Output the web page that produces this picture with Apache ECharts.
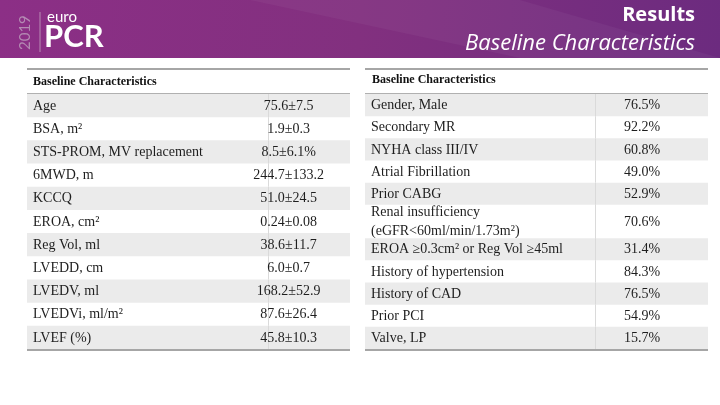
<!DOCTYPE html>
<html>
<head>
<meta charset="utf-8">
<script src="https://cdn.jsdelivr.net/npm/echarts@6/dist/echarts.min.js"></script>
<style>html,body{margin:0;padding:0;background:#fff}#c{width:720px;height:405px}</style>
</head>
<body>
<div id="c"></div>
<script>
var tableTitle = 'Baseline Characteristics';
var leftLabels = ['Age', 'BSA, m²', 'STS-PROM, MV replacement', '6MWD, m', 'KCCQ', 'EROA, cm²', 'Reg Vol, ml', 'LVEDD, cm', 'LVEDV, ml', 'LVEDVi, ml/m²', 'LVEF (%)'];
var leftValues = ['75.6±7.5', '1.9±0.3', '8.5±6.1%', '244.7±133.2', '51.0±24.5', '0.24±0.08', '38.6±11.7', '6.0±0.7', '168.2±52.9', '87.6±26.4', '45.8±10.3'];
var rightLabels = ['Gender, Male', 'Secondary MR', 'NYHA class III/IV', 'Atrial Fibrillation', 'Prior CABG', 'Renal insufficiency\n(eGFR<60ml/min/1.73m²)', 'EROA ≥0.3cm² or Reg Vol ≥45ml', 'History of hypertension', 'History of CAD', 'Prior PCI', 'Valve, LP'];
var rightValues = [76.5, 92.2, 60.8, 49.0, 52.9, 70.6, 31.4, 84.3, 76.5, 54.9, 15.7];

function rows(labels) {
  var out = [], acc = 0;
  labels.forEach(function (l, i) {
    var w = l.split('\n').length > 1 ? 1.5 : 1;
    out.push([i, acc, acc + w]);
    acc += w;
  });
  return { data: out, total: acc };
}
var L = rows(leftLabels), R = rows(rightLabels);
var rightText = rightValues.map(function (v) { return v.toFixed(1) + '%'; });

var serif = 'Liberation Serif';
function makeRender(labels, values, divFrac, valFrac) {
  return function (params, api) {
    var i = api.value(0);
    var p0 = api.coord([0, api.value(1)]);
    var p1 = api.coord([1, api.value(2)]);
    var x0 = p0[0], y0 = p0[1], x1 = p1[0], y1 = p1[1];
    var w = x1 - x0, h = y1 - y0;
    var xd = Math.round(x0 + w * divFrac) + 0.5;
    var ch = [];
    if (i % 2 === 0) ch.push({ type: 'rect', shape: { x: x0, y: y0, width: w, height: h }, style: { fill: '#ebebeb' } });
    ch.push({ type: 'line', shape: { x1: xd, y1: y0, x2: xd, y2: y1 }, style: { stroke: '#dadada', lineWidth: 1 } });
    ch.push({ type: 'text', style: { text: labels[i], x: x0 + 6, y: y0 + h / 2 + 0.5, verticalAlign: 'middle', align: 'left', fill: '#1e1e1e', font: '14px "' + serif + '"', lineHeight: 19 } });
    ch.push({ type: 'text', style: { text: values[i], x: x0 + w * valFrac, y: y0 + h / 2 + 0.5, verticalAlign: 'middle', align: 'center', fill: '#1e1e1e', font: '14px "' + serif + '"' } });
    return { type: 'group', children: ch };
  };
}

var chart = echarts.init(document.getElementById('c'), null, { renderer: 'canvas' });
var hiddenX = function (gi) { return { type: 'value', gridIndex: gi, min: 0, max: 1, show: false }; };
chart.setOption({
  animation: false,
  grid: [
    { left: 27, right: 370, top: 94, bottom: 56 },
    { left: 365, right: 12, top: 94, bottom: 56 }
  ],
  xAxis: [hiddenX(0), hiddenX(1)],
  yAxis: [
    { type: 'value', gridIndex: 0, min: 0, max: L.total, inverse: true, show: false },
    { type: 'value', gridIndex: 1, min: 0, max: R.total, inverse: true, show: false }
  ],
  series: [
    { type: 'custom', xAxisIndex: 0, yAxisIndex: 0, data: L.data, encode: { y: [1, 2] }, renderItem: makeRender(leftLabels, leftValues, 0.746, 0.81) },
    { type: 'custom', xAxisIndex: 1, yAxisIndex: 1, data: R.data, encode: { y: [1, 2] }, renderItem: makeRender(rightLabels, rightText, 0.67, 0.808) }
  ],
  graphic: [
    { type: 'rect', shape: { x: 0, y: 0, width: 720, height: 58 }, style: { fill: new echarts.graphic.LinearGradient(0, 0, 1, 1, [{ offset: 0, color: '#8c2f86' }, { offset: 0.5, color: '#82307f' }, { offset: 1, color: '#6c2b7f' }]) }, z: 1 },
    { type: 'polygon', shape: { points: [[250, 0], [520, 0], [720, 58], [520, 58]] }, style: { fill: 'rgba(255,255,255,0.04)' }, z: 2 },
    { type: 'text', x: 33, y: 50, rotation: Math.PI / 2, style: { text: '2019', fill: '#b48ab3', font: '15px "Lato"', verticalAlign: 'bottom', align: 'left' }, z: 3 },
    { type: 'line', shape: { x1: 40, y1: 12, x2: 40, y2: 52 }, style: { stroke: '#b88db4', lineWidth: 1 }, z: 3 },
    { type: 'text', x: 47, y: 17, style: { text: 'euro', fill: '#fff', font: '15px "Lato"', verticalAlign: 'middle' }, z: 3 },
    { type: 'text', x: 44, y: 37, style: { text: 'PCR', fill: '#fff', font: 'bold 31px "Lato"', verticalAlign: 'middle' }, z: 3 },
    { type: 'text', x: 695, y: 15, style: { text: 'Results', fill: '#fff', font: 'bold 20px "Open Sans"', align: 'right', verticalAlign: 'middle' }, z: 3 },
    { type: 'text', x: 695, y: 44, style: { text: tableTitle, fill: '#fff', font: 'italic 22px "Open Sans"', align: 'right', verticalAlign: 'middle' }, z: 3 },
    { type: 'line', shape: { x1: 27, y1: 69, x2: 350, y2: 69 }, style: { stroke: '#a6a6a6', lineWidth: 2 }, z: 3 },
    { type: 'line', shape: { x1: 365, y1: 69, x2: 708, y2: 69 }, style: { stroke: '#a6a6a6', lineWidth: 2 }, z: 3 },
    { type: 'text', x: 33, y: 82, style: { text: tableTitle, fill: '#111', font: 'bold 12px "' + serif + '"', verticalAlign: 'middle' }, z: 3 },
    { type: 'text', x: 372, y: 80, style: { text: tableTitle, fill: '#111', font: 'bold 12px "' + serif + '"', verticalAlign: 'middle' }, z: 3 },
    { type: 'line', shape: { x1: 27, y1: 93.5, x2: 350, y2: 93.5 }, style: { stroke: '#b0b0b0', lineWidth: 1 }, z: 3 },
    { type: 'line', shape: { x1: 365, y1: 93.5, x2: 708, y2: 93.5 }, style: { stroke: '#b0b0b0', lineWidth: 1 }, z: 3 },
    { type: 'line', shape: { x1: 27, y1: 350, x2: 350, y2: 350 }, style: { stroke: '#a6a6a6', lineWidth: 2 }, z: 3 },
    { type: 'line', shape: { x1: 365, y1: 350, x2: 708, y2: 350 }, style: { stroke: '#a6a6a6', lineWidth: 2 }, z: 3 }
  ]
});
</script>
</body>
</html>
